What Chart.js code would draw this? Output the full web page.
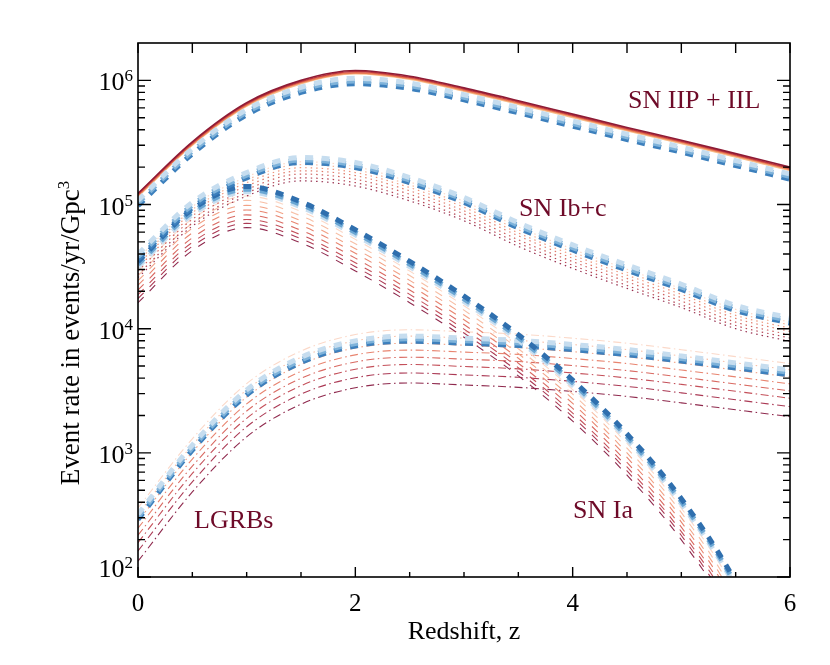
<!DOCTYPE html>
<html><head><meta charset="utf-8">
<script src="https://cdn.jsdelivr.net/npm/chart.js@4.4.0/dist/chart.umd.min.js"></script>
<style>html,body{margin:0;padding:0;background:#fff;}canvas{display:block;}</style>
</head><body>
<canvas id="c" width="830" height="665"></canvas>
<script>
const redshift = [0, 0.5, 1, 1.5, 2, 2.5, 3, 3.5, 4, 4.5, 5, 5.5, 6];

// SN IIP + IIL (solid red lines, dashed blue lines)
const iipRed1 = [1.23e5, 3.2e5, 6.6e5, 1.0e6, 1.2e6, 1.08e6, 8.7e5, 6.85e5, 5.35e5, 4.18e5, 3.3e5, 2.57e5, 2.0e5];
const iipRed2 = [1.21e5, 3.14e5, 6.47e5, 9.8e5, 1.18e6, 1.06e6, 8.53e5, 6.71e5, 5.24e5, 4.1e5, 3.23e5, 2.52e5, 1.96e5];
const iipRed3 = [1.18e5, 3.07e5, 6.34e5, 9.6e5, 1.15e6, 1.04e6, 8.35e5, 6.58e5, 5.14e5, 4.01e5, 3.17e5, 2.47e5, 1.92e5];
const iipRed4 = [1.16e5, 3.01e5, 6.2e5, 9.4e5, 1.13e6, 1.02e6, 8.18e5, 6.44e5, 5.03e5, 3.93e5, 3.1e5, 2.42e5, 1.88e5];
const iipBlue1 = [1.08e5, 2.82e5, 5.81e5, 8.8e5, 1.04e6, 9.5e5, 7.66e5, 6.03e5, 4.71e5, 3.68e5, 2.9e5, 2.26e5, 1.76e5];
const iipBlue2 = [1.03e5, 2.69e5, 5.54e5, 8.4e5, 9.9e5, 9.07e5, 7.31e5, 5.75e5, 4.49e5, 3.51e5, 2.77e5, 2.16e5, 1.68e5];
const iipBlue3 = [9.8e4, 2.56e5, 5.28e5, 8.0e5, 9.4e5, 8.64e5, 6.96e5, 5.48e5, 4.28e5, 3.34e5, 2.64e5, 2.06e5, 1.6e5];

// SN Ib+c (dotted red lines)
const ibcBlue1 = [3.99e4, 1.04e5, 1.81e5, 2.39e5, 2.18e5, 1.65e5, 1.14e5, 7.14e4, 4.73e4, 3.26e4, 2.28e4, 1.54e4, 1.22e4];
const ibcBlue2 = [3.8e4, 9.9e4, 1.72e5, 2.28e5, 2.08e5, 1.57e5, 1.09e5, 6.8e4, 4.5e4, 3.1e4, 2.17e4, 1.47e4, 1.16e4];
const ibcBlue3 = [3.63e4, 9.45e4, 1.64e5, 2.18e5, 1.99e5, 1.5e5, 1.04e5, 6.49e4, 4.3e4, 2.96e4, 2.07e4, 1.4e4, 1.11e4];
const ibcRed1 = [3.69e4, 9.6e4, 1.67e5, 2.21e5, 2.02e5, 1.52e5, 1.06e5, 6.6e4, 4.37e4, 3.01e4, 2.1e4, 1.43e4, 1.13e4];
const ibcRed2 = [3.5e4, 9.1e4, 1.58e5, 2.1e5, 1.91e5, 1.44e5, 1.0e5, 6.26e4, 4.14e4, 2.85e4, 2.0e4, 1.35e4, 1.07e4];
const ibcRed3 = [3.31e4, 8.6e4, 1.5e5, 1.98e5, 1.81e5, 1.37e5, 9.5e4, 5.9e4, 3.92e4, 2.7e4, 1.89e4, 1.28e4, 1.01e4];
const ibcRed4 = [3.12e4, 8.1e4, 1.41e5, 1.87e5, 1.71e5, 1.29e5, 8.9e4, 5.6e4, 3.69e4, 2.54e4, 1.78e4, 1.21e4, 9.5e3];
const ibcRed5 = [2.93e4, 7.6e4, 1.32e5, 1.76e5, 1.6e5, 1.21e5, 8.4e4, 5.2e4, 3.47e4, 2.39e4, 1.67e4, 1.13e4, 8.9e3];
const ibcRed6 = [2.74e4, 7.1e4, 1.24e5, 1.64e5, 1.5e5, 1.13e5, 7.8e4, 4.9e4, 3.24e4, 2.23e4, 1.56e4, 1.06e4, 8.4e3];
const ibcRed7 = [2.58e4, 6.7e4, 1.17e5, 1.55e5, 1.41e5, 1.07e5, 7.4e4, 4.6e4, 3.06e4, 2.11e4, 1.48e4, 1.0e4, 7.9e3];

// SN Ia (dashed red lines)
const iaBlue1 = [3.47e4, 9.14e4, 1.4e5, 1.05e5, 6.26e4, 3.48e4, 1.83e4, 8.93e3, 3.85e3, 1.42e3, 427, 91, 10.5];
const iaBlue2 = [3.3e4, 8.7e4, 1.33e5, 1.0e5, 5.96e4, 3.31e4, 1.74e4, 8.5e3, 3.67e3, 1.35e3, 407, 87, 10];
const iaBlue3 = [3.15e4, 8.31e4, 1.27e5, 9.55e4, 5.69e4, 3.16e4, 1.66e4, 8.12e3, 3.5e3, 1.29e3, 389, 83, 9.6];
const iaRed1 = [2.9e4, 7.66e4, 1.17e5, 8.8e4, 5.24e4, 2.91e4, 1.53e4, 7.48e3, 3.23e3, 1.19e3, 358, 77, 8.8];
const iaRed2 = [2.67e4, 7.05e4, 1.08e5, 8.1e4, 4.83e4, 2.68e4, 1.41e4, 6.89e3, 2.97e3, 1.09e3, 330, 70, 8.1];
const iaRed3 = [2.44e4, 6.44e4, 9.84e4, 7.4e4, 4.41e4, 2.45e4, 1.29e4, 6.29e3, 2.72e3, 999, 301, 64, 7.4];
const iaRed4 = [2.24e4, 5.92e4, 9.04e4, 6.8e4, 4.05e4, 2.25e4, 1.18e4, 5.78e3, 2.5e3, 918, 277, 59, 6.8];
const iaRed5 = [2.05e4, 5.39e4, 8.25e4, 6.2e4, 3.7e4, 2.05e4, 1.08e4, 5.27e3, 2.28e3, 837, 252, 54, 6.2];
const iaRed6 = [1.88e4, 4.96e4, 7.58e4, 5.7e4, 3.4e4, 1.89e4, 9.92e3, 4.85e3, 2.09e3, 770, 232, 50, 5.7];
const iaRed7 = [1.75e4, 4.61e4, 7.05e4, 5.3e4, 3.16e4, 1.75e4, 9.22e3, 4.5e3, 1.95e3, 716, 216, 46, 5.3];
const iaRed8 = [1.62e4, 4.26e4, 6.52e4, 4.9e4, 2.92e4, 1.62e4, 8.53e3, 4.17e3, 1.8e3, 662, 199, 43, 4.9];

// LGRBs (dash-dot red lines)
const grbBlue1 = [320, 1155, 3213, 5880, 7980, 8715, 8400, 8043, 7455, 6794, 6027, 5303, 4662];
const grbBlue2 = [305, 1100, 3060, 5600, 7600, 8300, 8000, 7660, 7100, 6470, 5740, 5050, 4440];
const grbBlue3 = [291, 1051, 2922, 5348, 7258, 7927, 7640, 7315, 6781, 6179, 5482, 4823, 4240];
const grbRed1 = [360, 1298, 3611, 6608, 8968, 9794, 9440, 9039, 8378, 7635, 6773, 5959, 5239];
const grbRed2 = [320, 1155, 3213, 5880, 7980, 8715, 8400, 8043, 7455, 6794, 6027, 5303, 4662];
const grbRed3 = [281, 1012, 2815, 5152, 6992, 7636, 7360, 7047, 6532, 5952, 5281, 4646, 4085];
const grbRed4 = [247, 891, 2479, 4536, 6156, 6723, 6480, 6205, 5751, 5241, 4649, 4091, 3596];
const grbRed5 = [217, 781, 2173, 3976, 5396, 5893, 5680, 5439, 5041, 4594, 4075, 3586, 3152];
const grbRed6 = [189, 682, 1897, 3472, 4712, 5146, 4960, 4749, 4402, 4011, 3559, 3131, 2753];
const grbRed7 = [162, 583, 1622, 2968, 4028, 4399, 4240, 4060, 3763, 3429, 3042, 2677, 2353];
const grbRed8 = [134, 484, 1346, 2464, 3344, 3652, 3520, 3370, 3124, 2847, 2526, 2222, 1954];

// tick labels and annotations
const xTickValues = [0, 2, 4, 6];
const xTickLabels = ['0', '2', '4', '6'];
const yTickExponents = [2, 3, 4, 5, 6];
const xTitle = 'Redshift, z';
const yTitleMain = 'Event rate in events/yr/Gpc';
const yTitleSup = '3';
const familyLabels = ['SN IIP + IIL', 'SN Ib+c', 'SN Ia', 'LGRBs'];

// styles
const red8 = ['#fbd9c9','#f7bfa6','#f2a286','#e88570','#d96a62','#c4505a','#ab3a55','#8f2a4e'];
const red7 = ['#fbd9c9','#f5b59a','#ee967c','#e07a69','#cc5f5e','#b44656','#98304f'];
const redIIP = ['#8e1b35','#c43a3e','#ea7a52','#f8bb86'];
const blueLightTop = ['#c6ddef','#7fb3da','#3d80bd'];
const blueDarkTop = ['#2f6fae','#6aa6d3','#c6ddef'];
const BLUE_DASH = [8, 8.5];

const groups = [
  {lines: [iipRed1, iipRed2, iipRed3, iipRed4], colors: redIIP, width: 1.6, dash: [], order: 2},
  {lines: [iipBlue1, iipBlue2, iipBlue3], colors: blueLightTop, width: 5, dash: BLUE_DASH, order: 1},
  {lines: [ibcRed1, ibcRed2, ibcRed3, ibcRed4, ibcRed5, ibcRed6, ibcRed7], colors: red7, width: 1.2, dash: [1.5, 4], order: 2},
  {lines: [ibcBlue1, ibcBlue2, ibcBlue3], colors: blueLightTop, width: 5, dash: BLUE_DASH, order: 1},
  {lines: [iaRed1, iaRed2, iaRed3, iaRed4, iaRed5, iaRed6, iaRed7, iaRed8], colors: red8, width: 1.1, dash: [8, 8.5], order: 2},
  {lines: [iaBlue1, iaBlue2, iaBlue3], colors: blueDarkTop, width: 5, dash: BLUE_DASH, order: 1},
  {lines: [grbRed1, grbRed2, grbRed3, grbRed4, grbRed5, grbRed6, grbRed7, grbRed8], colors: red8, width: 1.1, dash: [8, 3.5, 1.5, 3.5], order: 2},
  {lines: [grbBlue1, grbBlue2, grbBlue3], colors: blueLightTop, width: 5, dash: BLUE_DASH, order: 1}
];

const datasets = [];
groups.forEach(g => {
  g.lines.forEach((vals, i) => {
    datasets.push({
      data: vals.map((v, k) => ({x: redshift[k], y: v})),
      borderColor: g.colors[i],
      borderWidth: g.width,
      borderDash: g.dash,
      fill: false,
      pointRadius: 0,
      cubicInterpolationMode: 'monotone',
      clip: 0,
      order: g.order
    });
  });
});

const SERIF = '"Liberation Serif", "DejaVu Serif", serif';
const LABEL_COLOR = '#6e0a28';

const idlAxes = {
  id: 'idlAxes',
  afterDraw(chart) {
    const {ctx, chartArea: a, scales: {x, y}} = chart;
    ctx.save();
    ctx.strokeStyle = '#000';
    ctx.lineWidth = 1.6;
    ctx.strokeRect(a.left, a.top, a.right - a.left, a.bottom - a.top);
    ctx.lineWidth = 1.4;
    ctx.beginPath();
    yTickExponents.forEach(e => {
      const p = y.getPixelForValue(Math.pow(10, e));
      ctx.moveTo(a.left, p); ctx.lineTo(a.left + 13, p);
      ctx.moveTo(a.right, p); ctx.lineTo(a.right - 13, p);
      for (let m = 2; m <= 9; m++) {
        const v = m * Math.pow(10, e);
        if (v >= y.max) continue;
        const q = y.getPixelForValue(v);
        ctx.moveTo(a.left, q); ctx.lineTo(a.left + 7, q);
        ctx.moveTo(a.right, q); ctx.lineTo(a.right - 7, q);
      }
    });
    for (let k = 0; k <= 12; k++) {
      const z = k * 0.5;
      const p = x.getPixelForValue(z);
      const major = (k % 4 === 0);
      ctx.moveTo(p, a.bottom); ctx.lineTo(p, a.bottom - (major ? 10 : 5));
      ctx.moveTo(p, a.top); ctx.lineTo(p, a.top + 10);
    }
    ctx.stroke();

    ctx.fillStyle = '#000';
    ctx.textAlign = 'center';
    ctx.textBaseline = 'alphabetic';
    ctx.font = '25px ' + SERIF;
    xTickValues.forEach((v, i) => {
      ctx.fillText(xTickLabels[i], x.getPixelForValue(v), 611);
    });
    ctx.textAlign = 'left';
    yTickExponents.forEach(e => {
      const p = y.getPixelForValue(Math.pow(10, e));
      const exp = String(e);
      ctx.font = '17px ' + SERIF;
      const wE = ctx.measureText(exp).width;
      ctx.font = '26px ' + SERIF;
      const w10 = ctx.measureText('10').width;
      const xEnd = 133;
      const base = (e === 2) ? p : p + 10;
      ctx.fillText('10', xEnd - wE - w10, base);
      ctx.font = '17px ' + SERIF;
      ctx.fillText(exp, xEnd - wE, base - 9);
    });

    ctx.font = '26px ' + SERIF;
    ctx.textAlign = 'center';
    ctx.fillText(xTitle, (a.left + a.right) / 2, 639);

    ctx.save();
    ctx.translate(79, 333);
    ctx.rotate(-Math.PI / 2);
    ctx.font = '27px ' + SERIF;
    const wMain = ctx.measureText(yTitleMain).width;
    ctx.font = '17px ' + SERIF;
    const wSup = ctx.measureText(yTitleSup).width;
    const start = -(wMain + wSup) / 2;
    ctx.textAlign = 'left';
    ctx.font = '27px ' + SERIF;
    ctx.fillText(yTitleMain, start, 0);
    ctx.font = '17px ' + SERIF;
    ctx.fillText(yTitleSup, start + wMain, -10);
    ctx.restore();

    ctx.fillStyle = LABEL_COLOR;
    ctx.font = '26px ' + SERIF;
    ctx.textAlign = 'left';
    ctx.fillText(familyLabels[0], 628, 108);
    ctx.fillText(familyLabels[1], 519, 216);
    ctx.fillText(familyLabels[2], 573, 518);
    ctx.fillText(familyLabels[3], 194, 528);
    ctx.restore();
  }
};

new Chart(document.getElementById('c'), {
  type: 'line',
  data: {datasets},
  options: {
    responsive: false,
    animation: false,
    devicePixelRatio: 1,
    layout: {padding: {left: 0, right: 40, top: 43, bottom: 0}},
    plugins: {legend: {display: false}, tooltip: {enabled: false}, title: {display: false}},
    elements: {point: {radius: 0}},
    events: [],
    scales: {
      x: {
        type: 'linear', min: 0, max: 6,
        grid: {display: false, drawTicks: false}, border: {display: false},
        ticks: {display: false},
        afterFit(s) { s.height = 88; }
      },
      y: {
        type: 'logarithmic', min: 100, max: 2e6,
        grid: {display: false, drawTicks: false}, border: {display: false},
        ticks: {display: false},
        afterFit(s) { s.width = 138; }
      }
    }
  },
  plugins: [idlAxes]
});
</script>
</body></html>
